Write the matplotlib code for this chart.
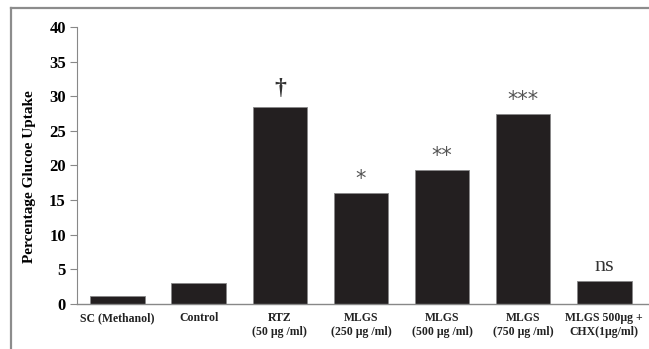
import numpy as np
import matplotlib.pyplot as plt
from matplotlib.lines import Line2D

categories = ["SC (Methanol)", "Control", "RTZ\n(50 \u00b5g /ml)", "MLGS\n(250 \u00b5g /ml)",
              "MLGS\n(500 \u00b5g /ml)", "MLGS\n(750 \u00b5g /ml)", "MLGS 500\u00b5g +\nCHX(1\u00b5g/ml)"]
uptake = [1.2, 3.0, 28.4, 16.0, 19.3, 27.4, 3.3]
marks = ["", "", "\u2020", "*", "**", "***", "ns"]

plt.rcParams['font.family'] = ['Liberation Serif', 'DejaVu Serif']

fig = plt.figure(figsize=(6.49, 3.49), dpi=100)
ax = fig.add_axes([0.1186, 0.129, 0.8814, 0.7937])

x = np.arange(len(categories))
ax.bar(x, uptake, width=0.67, color='#231f20', edgecolor='#888888', linewidth=0.6)

for i in range(len(x)):
    if marks[i] == "":
        continue
    if marks[i] == "ns":
        ax.text(x[i], uptake[i] + 0.8, marks[i], ha='center', va='bottom', fontsize=16, color='#333333')
    elif marks[i] == "\u2020":
        ax.text(x[i], uptake[i] + 1.2, marks[i], ha='center', va='bottom', fontsize=17,
                fontweight='bold', color='#333333')
    else:
        ax.text(x[i], uptake[i] + 0.6, marks[i], ha='center', va='bottom', fontsize=15,
                color='#555555', family='DejaVu Sans')

ax.set_xlim(-0.5, 6.55)
ax.set_ylim(0, 40)
ax.set_yticks(range(0, 41, 5))
ax.set_xticks(x)
ax.set_xticklabels(categories, fontsize=8.5, fontweight='bold', color='#222222')
ax.tick_params(axis='x', length=0, pad=6)
ax.tick_params(axis='y', length=5, width=0.8, color='#888888', labelsize=12, pad=3)
for lab in ax.get_yticklabels():
    lab.set_fontweight('bold')
ax.set_ylabel("Percentage Glucoe Uptake", fontsize=11, fontweight='bold')
ax.yaxis.set_label_coords(-0.071, 0.46)

ax.spines['top'].set_visible(False)
ax.spines['right'].set_visible(False)
ax.spines['left'].set_color('#888888')
ax.spines['bottom'].set_color('#888888')
ax.spines['bottom'].set_linewidth(1.0)

# frame lines of the cropped figure
fig.add_artist(Line2D([11/649, 1.0], [1 - 8/349, 1 - 8/349], color='#8c8c8c', linewidth=1.6))
fig.add_artist(Line2D([11/649, 11/649], [0, 1 - 8/349], color='#8c8c8c', linewidth=1.6))

fig.savefig("out.png", dpi=100)
